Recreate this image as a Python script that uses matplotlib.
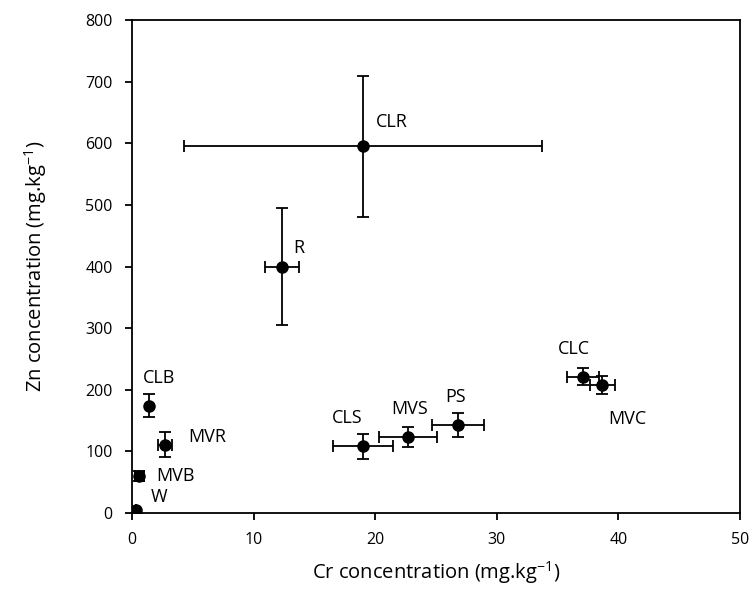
import numpy as np
import matplotlib.pyplot as plt

plt.rcParams['font.family'] = ['Open Sans', 'DejaVu Sans']
plt.rcParams['mathtext.default'] = 'regular'

# sample sites and concentrations (mg/kg)
sites = ['W', 'MVB', 'CLB', 'MVR', 'R', 'CLR', 'CLS', 'MVS', 'PS', 'CLC', 'MVC']
cr = [0.3, 0.6, 1.4, 2.7, 12.3, 19.0, 19.0, 22.7, 26.8, 37.1, 38.7]
cr_err = [0.0, 0.35, 0.0, 0.55, 1.4, 14.7, 2.5, 2.35, 2.15, 1.35, 1.05]
zn = [5, 60, 174, 111, 400, 595, 108, 123, 143, 221, 208]
zn_err = [0, 8, 19, 20, 95, 115, 20, 16, 19, 14, 15]

# label offsets in pixels (dx, dy)
offsets = [(23, 13), (36, 0), (10, 28), (42, 8), (17, 19), (29, 24),
           (-16, 28), (2, 28), (-2, 28), (-9, 28), (25, -34)]

fig = plt.figure(figsize=(7.56, 5.91), dpi=100)
ax = fig.add_axes([0.1746, 0.132, 0.804, 0.834])

ax.errorbar(cr, zn, xerr=cr_err, yerr=zn_err, fmt='o', color='black',
            markersize=8, capsize=4, elinewidth=1.3, capthick=1.3)

for name, x, y, (dx, dy) in zip(sites, cr, zn, offsets):
    ax.annotate(name, (x, y), xytext=(dx, dy), textcoords='offset pixels',
                ha='center', va='center', fontsize=13)

ax.set_xlim(0, 50)
ax.set_ylim(0, 800)
ax.set_xticks(np.arange(0, 51, 10))
ax.set_yticks(np.arange(0, 801, 100))
ax.tick_params(direction='out', labelsize=11.5, length=5, width=1.3, pad=9)
for s in ax.spines.values():
    s.set_linewidth(1.3)

ax.set_xlabel('Cr concentration (mg.kg$^{-1}$)', fontsize=14.5, labelpad=8)
ax.set_ylabel('Zn concentration (mg.kg$^{-1}$)', fontsize=14.5, labelpad=26)

fig.savefig('out.png', dpi=100)
